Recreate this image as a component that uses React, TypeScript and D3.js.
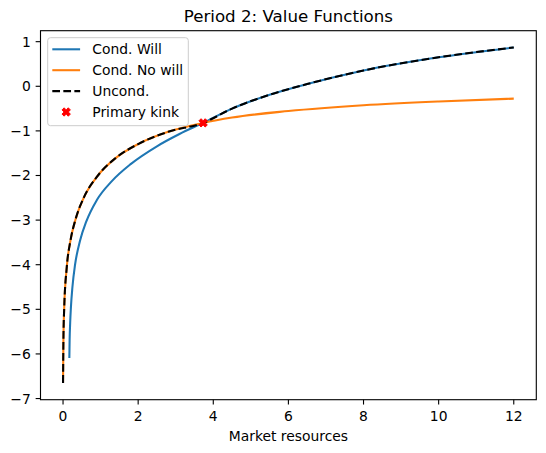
import React from "react";
import * as d3 from "d3";

const W = 546;
const H = 453;

const title = "Period 2: Value Functions";
const xLabel = "Market resources";
const seriesNames = ["Cond. Will", "Cond. No will", "Uncond.", "Primary kink"];

const xTicks = [0, 2, 4, 6, 8, 10, 12];
const yTicks = [-7, -6, -5, -4, -3, -2, -1, 0, 1];

const willX = [0.168, 0.175, 0.19, 0.21, 0.25, 0.32, 0.45, 0.62, 0.9, 1.3, 1.8, 2.5, 3.1, 3.73, 4.5, 5.5, 6.5, 8, 10, 12];
const willY = [-6.09, -5.7, -5.3, -4.95, -4.5, -4.0, -3.47, -3.03, -2.55, -2.125, -1.745, -1.345, -1.07, -0.82, -0.5, -0.19, 0.05, 0.355, 0.65, 0.87];

const noWillX = [0, 0.01, 0.03, 0.1, 0.2, 0.33, 0.55, 0.9, 1.4, 2.0, 2.8, 3.73, 4.5, 6, 8, 10, 12];
const noWillY = [-6.65, -5.7, -5.0, -4.05, -3.45, -2.99, -2.5, -2.03, -1.61, -1.295, -1.02, -0.82, -0.7, -0.555, -0.425, -0.34, -0.277];

const kinkX = [3.73];
const kinkY = [-0.82];

const BLUE = "#1f77b4";
const ORANGE = "#ff7f0e";
const FONT = "DejaVu Sans, sans-serif";

type P = [number, number];

const zip = (xs: number[], ys: number[]): P[] => xs.map((x, i) => [x, ys[i]] as P);

export default function App() {
  const will = zip(willX, willY);
  const noWill = zip(noWillX, noWillY);
  const kink: P = [kinkX[0], kinkY[0]];
  const uncond: P[] = [
    ...noWill.filter((p) => p[0] < kink[0]),
    kink,
    ...will.filter((p) => p[0] > kink[0]),
  ];

  const allX = [...willX, ...noWillX];
  const allY = [...willY, ...noWillY];
  const [x0, x1] = d3.extent(allX) as [number, number];
  const [y0, y1] = d3.extent(allY) as [number, number];
  const mx = (x1 - x0) * 0.05;
  const my = (y1 - y0) * 0.05;

  const L = 40.5, R = 536.3, T = 30.7, B = 399.7;
  const x = d3.scaleLinear().domain([x0 - mx, x1 + mx]).range([L, R]);
  const y = d3.scaleLinear().domain([y0 - my, y1 + my]).range([B, T]);

  const line = d3
    .line<P>()
    .x((d) => x(d[0]))
    .y((d) => y(d[1]))
    .curve(d3.curveMonotoneX);

  const lw = 2.08;
  const dash = "7.7,3.33";
  const fmt = (v: number) => (v < 0 ? "\u2212" + Math.abs(v) : String(v));

  // matplotlib filled 'X' marker
  const xs = 8.33;
  const xPts: P[] = [
    [0.25, 0], [0.5, 0.25], [0.75, 0], [1, 0.25], [0.75, 0.5], [1, 0.75],
    [0.75, 1], [0.5, 0.75], [0.25, 1], [0, 0.75], [0.25, 0.5], [0, 0.25],
  ];
  const xMarker = (cx: number, cy: number) =>
    "M" + xPts.map((p) => `${cx + (p[0] - 0.5) * xs},${cy + (p[1] - 0.5) * xs}`).join("L") + "Z";

  const legX = 47.7, legY = 37.7, legW = 140.6, legH = 88;
  const rowY = [49.3, 70.2, 91.1, 112];
  const lx0 = 52.3, lx1 = 80.1, tx = 92.3;

  return (
    <svg
      width={W}
      height={H}
      style={{ position: "absolute", left: 0, top: 0, background: "#fff" }}
      fontFamily={FONT}
    >
      <rect x={0} y={0} width={W} height={H} fill="#fff" />
      <defs>
        <clipPath id="plot">
          <rect x={L} y={T} width={R - L} height={B - T} />
        </clipPath>
      </defs>
      <g clipPath="url(#plot)">
        <path d={line(will) || ""} fill="none" stroke={BLUE} strokeWidth={lw} />
        <path d={line(noWill) || ""} fill="none" stroke={ORANGE} strokeWidth={lw} />
        <path d={line(uncond) || ""} fill="none" stroke="#000" strokeWidth={lw} strokeDasharray={dash} />
        <path d={xMarker(x(kink[0]), y(kink[1]))} fill="red" stroke="red" strokeWidth={1} />
      </g>
      <rect x={L} y={T} width={R - L} height={B - T} fill="none" stroke="#000" strokeWidth={1.11} />
      {xTicks.map((t) => (
        <g key={"x" + t}>
          <line x1={x(t)} x2={x(t)} y1={B} y2={B + 4.86} stroke="#000" strokeWidth={1.11} />
          <text x={x(t)} y={420.8} textAnchor="middle" fontSize={13.89} fill="#000">
            {fmt(t)}
          </text>
        </g>
      ))}
      {yTicks.map((t) => (
        <g key={"y" + t}>
          <line x1={L - 4.86} x2={L} y1={y(t)} y2={y(t)} stroke="#000" strokeWidth={1.11} />
          <text x={L - 9.7} y={y(t) + 5} textAnchor="end" fontSize={13.89} fill="#000">
            {fmt(t)}
          </text>
        </g>
      ))}
      <text x={(L + R) / 2} y={440.5} textAnchor="middle" fontSize={13.89} fill="#000">
        {xLabel}
      </text>
      <text x={(L + R) / 2} y={21.8} textAnchor="middle" fontSize={16.67} fill="#000">
        {title}
      </text>
      <rect x={legX} y={legY} width={legW} height={legH} rx={2.8} fill="#fff" fillOpacity={0.8} stroke="#cccccc" strokeWidth={1} />
      <line x1={lx0} x2={lx1} y1={rowY[0]} y2={rowY[0]} stroke={BLUE} strokeWidth={lw} />
      <line x1={lx0} x2={lx1} y1={rowY[1]} y2={rowY[1]} stroke={ORANGE} strokeWidth={lw} />
      <line x1={lx0} x2={lx1} y1={rowY[2]} y2={rowY[2]} stroke="#000" strokeWidth={lw} strokeDasharray={dash} />
      <path d={xMarker((lx0 + lx1) / 2, rowY[3])} fill="red" stroke="red" strokeWidth={1} />
      {seriesNames.map((s, i) => (
        <text key={s} x={tx} y={rowY[i] + 5} fontSize={13.89} fill="#000">
          {s}
        </text>
      ))}
    </svg>
  );
}
